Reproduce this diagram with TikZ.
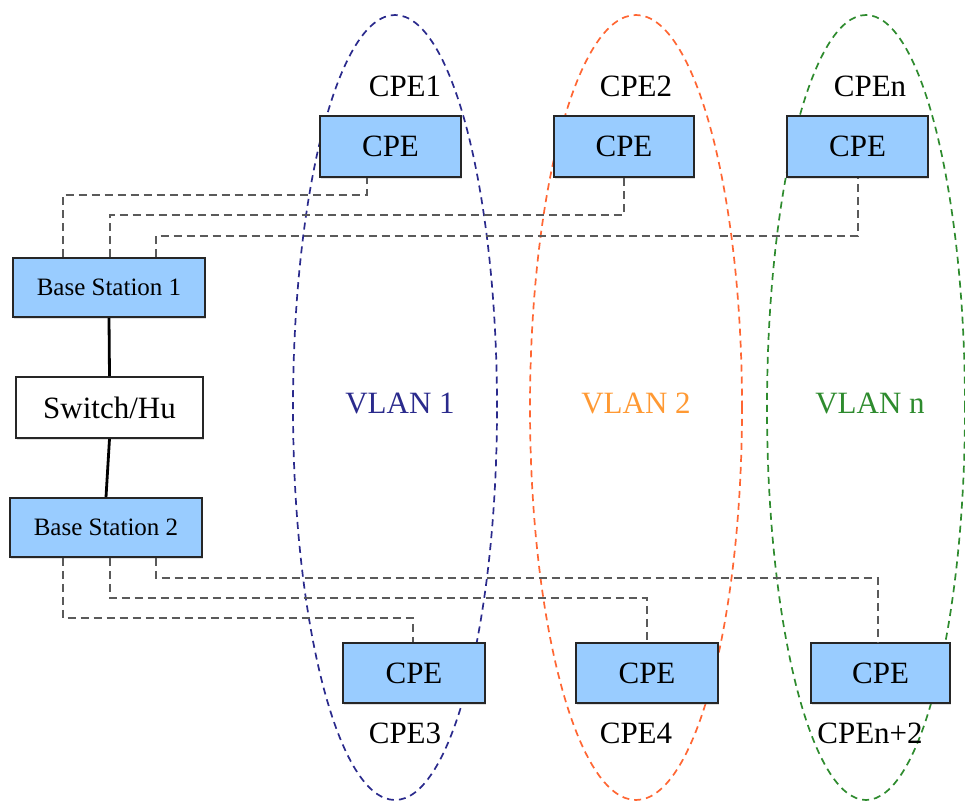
\documentclass[tikz,border=0pt]{standalone}
\usepackage{fontspec}
\setmainfont{Liberation Serif}
\usetikzlibrary{shadows}
\definecolor{boxfill}{HTML}{99CCFF}
\definecolor{vlanblue}{HTML}{2A2A8C}
\definecolor{vlanorange}{HTML}{FF6633}
\definecolor{vlanorangetext}{HTML}{FF9933}
\definecolor{vlangreen}{HTML}{2E8B2E}
\definecolor{linkgray}{HTML}{5A5A5A}
\begin{document}
\begin{tikzpicture}[x=1pt,y=-1pt,
  devbox/.style={draw=black!85, line width=1.7pt, fill=boxfill, rectangle,
    inner sep=0pt, font=\fontsize{31}{35}\selectfont,
    drop shadow={shadow xshift=1pt, shadow yshift=-2pt, opacity=0.25, fill=gray}},
  bsbox/.style={devbox, font=\fontsize{25}{29}\selectfont},
  hubbox/.style={devbox, fill=white},
  lbl/.style={font=\fontsize{31}{35}\selectfont, inner sep=0pt},
  vlan/.style={line width=1.7pt, dash pattern=on 7pt off 5pt},
  link/.style={draw=linkgray, line width=2pt, dash pattern=on 8pt off 5pt},
  trunk/.style={draw=black, line width=2.8pt}]
\useasboundingbox (0,0) rectangle (965,802);

% VLAN groupings
\draw[vlan, vlanblue] (395,407.5) ellipse [x radius=102pt, y radius=392.5pt];
\draw[vlan, vlanorange] (636,407.5) ellipse [x radius=106pt, y radius=392.5pt];
\draw[vlan, vlangreen] (866,407.5) ellipse [x radius=99pt, y radius=392.5pt];

\node[lbl, text=vlanblue] (v1) at (400,403) {VLAN 1};
\node[lbl, text=vlanorangetext] (v2) at (636,403) {VLAN 2};
\node[lbl, text=vlangreen] (vn) at (870,403) {VLAN n};

% base stations and switch
\node[bsbox, minimum width=192pt, minimum height=59pt] (bs1) at (109,287.5) {Base Station 1};
\node[hubbox, minimum width=187pt, minimum height=61pt] (sw) at (109.5,407.5) {Switch/Hu};
\node[bsbox, minimum width=192pt, minimum height=59pt] (bs2) at (106,527.5) {Base Station 2};

\draw[trunk] (bs1.south) -- (sw.north);
\draw[trunk] (sw.south) -- (bs2.north);

% customer premises equipment
\node[devbox, minimum width=141pt, minimum height=61pt] (cpe1) at (390.5,146.5) {CPE};
\node[devbox, minimum width=140pt, minimum height=61pt] (cpe2) at (624,146.5) {CPE};
\node[devbox, minimum width=141pt, minimum height=61pt] (cpen) at (857.5,146.5) {CPE};
\node[devbox, minimum width=142pt, minimum height=60pt] (cpe3) at (414,673) {CPE};
\node[devbox, minimum width=142pt, minimum height=60pt] (cpe4) at (647,673) {CPE};
\node[devbox, minimum width=139pt, minimum height=60pt] (cpen2) at (880.5,673) {CPE};

\node[lbl] (l1) at (405,86) {CPE1};
\node[lbl] (l2) at (636,86) {CPE2};
\node[lbl] (ln) at (870,86) {CPEn};
\node[lbl] (l3) at (405,733) {CPE3};
\node[lbl] (l4) at (636,733) {CPE4};
\node[lbl] (ln2) at (870,733) {CPEn+2};

% wireless links from base station 1
\draw[link] ([xshift=-46pt]bs1.north) |- ([xshift=-23.5pt,yshift=-17pt]cpe1.south) -- ([xshift=-23.5pt]cpe1.south);
\draw[link] ([xshift=1pt]bs1.north) |- ([yshift=-37pt]cpe2.south) -- (cpe2.south);
\draw[link] ([xshift=47pt]bs1.north) |- ([yshift=-58pt]cpen.south) -- (cpen.south);

% wireless links from base station 2
\draw[link] ([xshift=-43pt]bs2.south) |- ([xshift=-1pt,yshift=24pt]cpe3.north) -- ([xshift=-1pt]cpe3.north);
\draw[link] ([xshift=4pt]bs2.south) |- ([yshift=44pt]cpe4.north) -- (cpe4.north);
\draw[link] ([xshift=50pt]bs2.south) |- ([xshift=-2.5pt,yshift=64pt]cpen2.north) -- ([xshift=-2.5pt]cpen2.north);
\end{tikzpicture}
\end{document}
